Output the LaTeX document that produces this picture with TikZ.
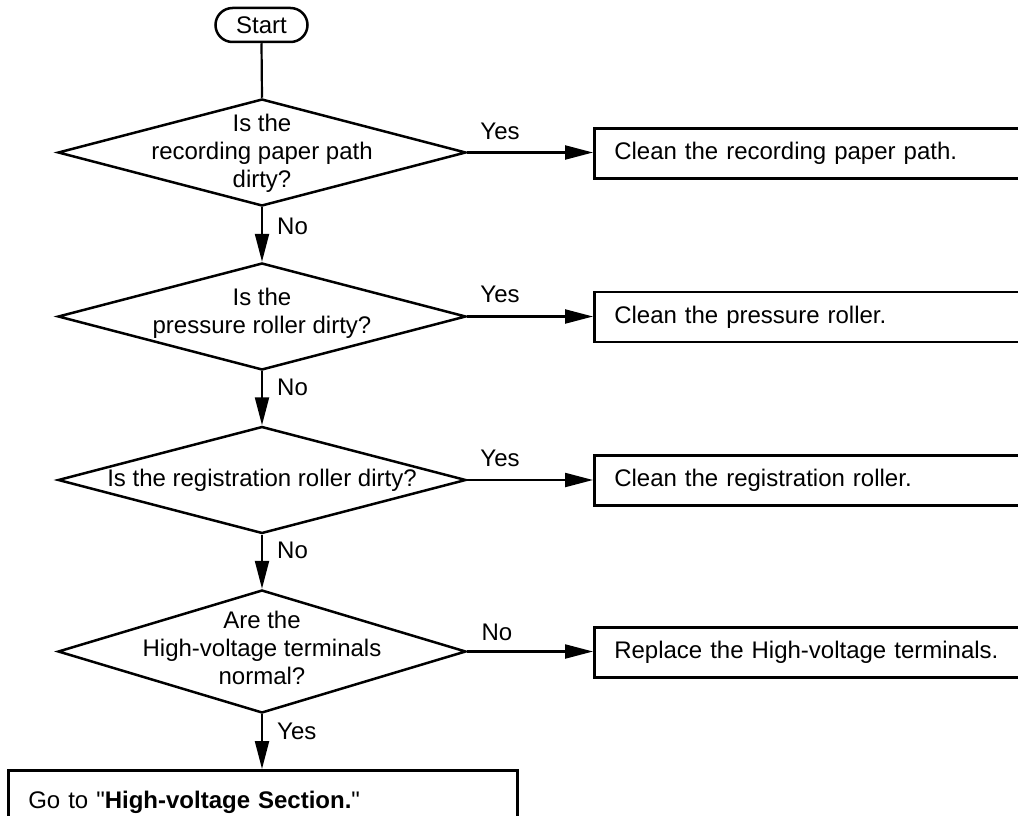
\documentclass[tikz,border=0pt]{standalone}
\usepackage{fontspec}
\newfontfamily\lsans{Liberation Sans}
\usetikzlibrary{shapes.geometric,arrows.meta}
\begin{document}
\begin{tikzpicture}[x=1pt,y=-1pt,
  every node/.style={font=\lsans\fontsize{24}{28}\selectfont},
  txt/.style={inner sep=0pt,align=center},
  lbl/.style={inner sep=0pt},
  dia/.style={draw,diamond,line width=2.5pt,inner sep=0pt,minimum width=408pt,minimum height=107pt},
  box/.style={draw,rectangle,line width=2.5pt,minimum height=50pt,text width=420pt,inner xsep=20pt,align=left,anchor=west},
  startnode/.style={draw,rectangle,rounded corners=17pt,line width=2.5pt,minimum width=92pt,minimum height=34pt,inner sep=0pt},
  conn/.style={line width=2.2pt},
  arr/.style={line width=2.2pt,-{Triangle[length=28pt,width=14pt]}}
]
\useasboundingbox (0,0) rectangle (1018,816);
\clip (0,0) rectangle (1018,816);

% start
\node[startnode] (start) at (261.5,25) {Start};

% decisions
\node[dia] (d1) at (262,152.5) {};
\node[txt] (t1) at (262,153) {Is the\\recording paper path\\dirty?};
\node[dia] (d2) at (262,316.5) {};
\node[txt] (t2) at (262,313) {Is the\\pressure roller dirty?};
\node[dia] (d3) at (262,480) {};
\node[txt] (t3) at (262,480) {Is the registration roller dirty?};
\node[dia,minimum height=123pt] (d4) at (262,651.5) {};
\node[txt] (t4) at (262,648) {Are the\\High-voltage terminals\\normal?};

% action boxes
\node[box] (b1) at (593,153.5) {Clean the recording paper path.};
\node[box] (b2) at (593,317) {Clean the pressure roller.};
\node[box] (b3) at (593,480.5) {Clean the registration roller.};
\node[box] (b4) at (593,652.5) {Replace the High-voltage terminals.};
\node[box,text width=469pt,minimum height=64pt,anchor=north west] (b5) at (7,769) {Go to "\textbf{High-voltage Section.}"};

% connectors
\draw[conn] (start.south) -- (d1.north);
\draw[arr] (d1.south) -- (d2.north);
\draw[arr] (d2.south) -- (d3.north);
\draw[arr] (d3.south) -- (d4.north);
\draw[arr] (d4.south) -- (d4.south |- b5.north);
\draw[arr] (d1.east) -- (d1.east -| b1.west);
\draw[arr] (d2.east) -- (d2.east -| b2.west);
\draw[arr] (d3.east) -- (d3.east -| b3.west);
\draw[arr] (d4.east) -- (d4.east -| b4.west);

% labels
\node[lbl,anchor=west] (n1) at (277,226) {No};
\node[lbl,anchor=west] (n2) at (277,387) {No};
\node[lbl,anchor=west] (n3) at (277,550) {No};
\node[lbl,anchor=west] (y4) at (277,731) {Yes};
\node[lbl] (y1) at (500,131) {Yes};
\node[lbl] (y2) at (500,294) {Yes};
\node[lbl] (y3) at (500,458) {Yes};
\node[lbl] (n4) at (497,632) {No};
\end{tikzpicture}
\end{document}
